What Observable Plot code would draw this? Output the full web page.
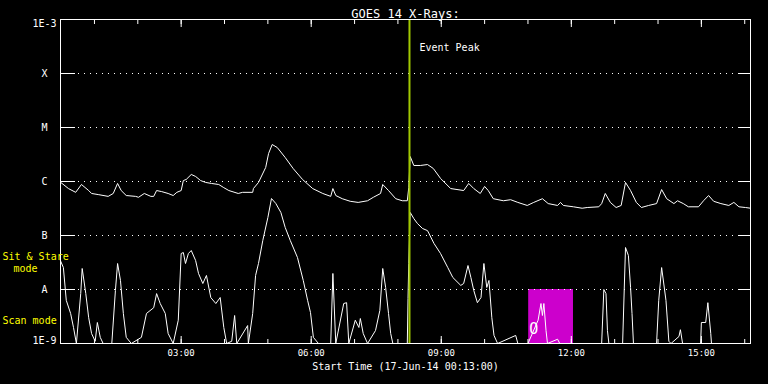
<!DOCTYPE html>
<html>
<head>
<meta charset="utf-8">
<script src="https://cdn.jsdelivr.net/npm/d3@7"></script>
<script src="https://cdn.jsdelivr.net/npm/@observablehq/plot@0.6"></script>
<style>
  html, body { margin: 0; padding: 0; background: #000; }
  #chart { width: 768px; height: 384px; }
</style>
</head>
<body>
<div id="chart"></div>
<script>
// ---- data (UTC, 17-Jun-2014) ----
const longTimes = ["00:13","00:24","00:34","00:42","00:52","00:56","01:06","01:19","01:26","01:32","01:37","01:44","01:57","02:01","02:09","02:18","02:22","02:26","02:33","02:42","02:49","02:54","03:00","03:03","03:07","03:14","03:20","03:27","03:34","03:42","03:52","03:59","04:06","04:19","04:25","04:39","04:40","04:47","04:57","05:01","05:06","05:13","05:24","05:35","05:48","06:02","06:16","06:27","06:30","06:34","06:43","06:54","07:05","07:18","07:26","07:36","07:39","07:47","07:57","08:06","08:13","08:15","08:17","08:22","08:31","08:41","08:49","08:59","09:13","09:31","09:38","09:45","09:54","10:00","10:05","10:12","10:26","10:36","10:46","10:59","11:08","11:20","11:28","11:41","11:45","11:49","12:03","12:15","12:22","12:38","12:42","12:47","12:54","13:02","13:09","13:15","13:22","13:30","13:37","13:47","13:58","14:05","14:12","14:22","14:27","14:35","14:42","14:56","15:03","15:10","15:17","15:27","15:38","15:45","15:52","16:01","16:08"];
const longFlux = [0.97e-6,0.74e-6,0.63e-6,0.88e-6,0.68e-6,0.60e-6,0.57e-6,0.53e-6,0.60e-6,0.92e-6,0.68e-6,0.55e-6,0.53e-6,0.51e-6,0.60e-6,0.53e-6,0.53e-6,0.68e-6,0.65e-6,0.60e-6,0.55e-6,0.63e-6,0.68e-6,1.04e-6,1.09e-6,1.35e-6,1.24e-6,1.04e-6,0.96e-6,0.92e-6,0.88e-6,0.77e-6,0.68e-6,0.60e-6,0.63e-6,0.63e-6,0.74e-6,0.96e-6,1.82e-6,3.30e-6,4.84e-6,4.26e-6,2.78e-6,1.74e-6,1.09e-6,0.74e-6,0.60e-6,0.53e-6,0.74e-6,0.55e-6,0.48e-6,0.43e-6,0.41e-6,0.44e-6,0.51e-6,0.60e-6,0.88e-6,0.68e-6,0.48e-6,0.44e-6,0.44e-6,0.77e-6,2.90e-6,1.98e-6,1.98e-6,2.06e-6,1.74e-6,1.14e-6,0.74e-6,0.68e-6,0.92e-6,0.74e-6,0.60e-6,0.81e-6,0.68e-6,0.48e-6,0.44e-6,0.46e-6,0.41e-6,0.36e-6,0.41e-6,0.48e-6,0.39e-6,0.36e-6,0.41e-6,0.36e-6,0.34e-6,0.32e-6,0.33e-6,0.34e-6,0.39e-6,0.60e-6,0.41e-6,0.33e-6,0.36e-6,0.96e-6,0.68e-6,0.41e-6,0.33e-6,0.36e-6,0.39e-6,0.71e-6,0.48e-6,0.39e-6,0.44e-6,0.39e-6,0.34e-6,0.34e-6,0.44e-6,0.55e-6,0.43e-6,0.39e-6,0.36e-6,0.41e-6,0.34e-6,0.33e-6,0.32e-6];

const shortTimes = ["00:13","00:17","00:21","00:27","00:31","00:35","00:41","00:43","00:48","00:52","00:56","01:01","01:04","01:08","01:12","01:24","01:29","01:32","01:36","01:40","01:44","01:51","02:05","02:12","02:22","02:26","02:31","02:38","02:42","02:49","02:56","03:00","03:03","03:06","03:10","03:14","03:20","03:24","03:30","03:35","03:41","03:48","03:54","03:59","04:03","04:10","04:14","04:17","04:32","04:33","04:39","04:43","04:47","04:53","05:00","05:05","05:11","05:18","05:24","05:31","05:41","05:49","05:55","05:59","06:03","06:10","06:27","06:30","06:34","06:45","06:49","06:52","07:01","07:06","07:08","07:12","07:18","07:29","07:35","07:39","07:43","07:47","07:50","07:53","08:13","08:14","08:15","08:17","08:22","08:27","08:34","08:41","08:50","08:59","09:09","09:16","09:27","09:31","09:37","09:41","09:45","09:50","09:55","09:59","10:03","10:06","10:10","10:13","10:18","10:43","10:46","11:00","11:14","11:18","11:20","11:22","11:25","11:27","11:41","11:44","12:42","12:45","12:48","12:50","12:52","13:11","13:15","13:19","13:22","13:24","13:26","13:58","14:01","14:05","14:11","14:15","14:18","14:29","14:31","14:34","14:59","15:00","15:06","15:09","15:13","15:14","16:08"];
const shortFlux = [3.4e-8,2.55e-8,0.63e-8,0.36e-8,0.198e-8,0.1e-8,0.84e-8,2.45e-8,0.84e-8,0.30e-8,0.153e-8,0.11e-8,0.245e-8,0.13e-8,0.1e-8,0.1e-8,0.96e-8,3.03e-8,1.47e-8,0.36e-8,0.13e-8,0.1e-8,0.13e-8,0.36e-8,0.46e-8,0.84e-8,0.55e-8,0.36e-8,0.153e-8,0.1e-8,0.27e-8,4.64e-8,4.84e-8,3.03e-8,4.64e-8,5.27e-8,3.44e-8,1.98e-8,1.29e-8,1.82e-8,0.71e-8,0.55e-8,0.71e-8,0.198e-8,0.1e-8,0.11e-8,0.33e-8,0.1e-8,0.215e-8,0.1e-8,0.36e-8,1.82e-8,3.03e-8,8.1e-8,21.5e-8,48.4e-8,39.2e-8,26.7e-8,14.1e-8,8.1e-8,3.91e-8,1.47e-8,0.63e-8,0.375e-8,0.13e-8,0.1e-8,0.1e-8,1.98e-8,0.1e-8,0.55e-8,0.57e-8,0.1e-8,0.27e-8,0.198e-8,0.29e-8,0.153e-8,0.1e-8,0.174e-8,0.41e-8,2.45e-8,1.09e-8,0.36e-8,0.153e-8,0.1e-8,0.1e-8,0.68e-8,3.03e-8,26.7e-8,20.6e-8,16.7e-8,13.5e-8,12.3e-8,7.1e-8,4.64e-8,2.55e-8,1.67e-8,1.19e-8,1.29e-8,2.78e-8,1.67e-8,0.96e-8,0.57e-8,0.71e-8,3.03e-8,1.09e-8,1.47e-8,0.30e-8,0.141e-8,0.1e-8,0.141e-8,0.1e-8,0.1e-8,0.27e-8,0.55e-8,0.33e-8,0.55e-8,0.174e-8,0.1e-8,0.12e-8,0.1e-8,0.1e-8,1.0e-8,0.84e-8,0.174e-8,0.1e-8,0.1e-8,5.99e-8,4.26e-8,1.09e-8,0.36e-8,0.1e-8,0.1e-8,0.63e-8,2.55e-8,0.63e-8,0.11e-8,0.1e-8,0.135e-8,0.18e-8,0.1e-8,0.1e-8,0.245e-8,0.245e-8,0.57e-8,0.153e-8,0.1e-8,0.1e-8];

const classLevels = [1e-3, 1e-4, 1e-5, 1e-6, 1e-7, 1e-8, 1e-9];
const classLabels = ["1E-3", "X", "M", "C", "B", "A", "1E-9"];
const hourTicks = ["01:00","02:00","03:00","04:00","05:00","06:00","07:00","08:00","09:00","10:00","11:00","12:00","13:00","14:00","15:00","16:00"];
const majorTickLabels = ["03:00","06:00","09:00","12:00","15:00"];
const startTime = "00:13";
const endTime = "16:08";
const eventPeak = "08:16";
const scanWindow = ["11:01", "12:03"];
const scanFlux = [1e-9, 1e-8];
const scanMarkTime = "11:08";

// ---- build ----
const T = s => new Date(`2014-06-17T${s}:00Z`);
const longData = longTimes.map((t, i) => ({t: T(t), f: longFlux[i]}));
const shortData = shortTimes.map((t, i) => ({t: T(t), f: shortFlux[i]}));
const levels = classLevels.map((v, i) => ({v, label: classLabels[i]}));
const inner = levels.filter(d => d.v < 1e-3 && d.v > 1e-9);
const hours = hourTicks.map(T);
const majors = majorTickLabels.map(T);
const fmt = d3.utcFormat("%H:%M");

const chart = Plot.plot({
  width: 768,
  height: 384,
  marginTop: 19,
  marginBottom: 41,
  marginLeft: 60,
  marginRight: 18,
  style: {background: "#000", color: "#fff", fontFamily: "DejaVu Sans Mono, monospace", fontSize: "10px"},
  x: {type: "utc", domain: [T(startTime), T(endTime)], axis: null},
  y: {type: "log", domain: [1e-9, 1e-3], axis: null, clamp: true},
  marks: [
    Plot.rect([{a: T(scanWindow[0]), b: T(scanWindow[1])}], {x1: "a", x2: "b", y1: scanFlux[0], y2: scanFlux[1], fill: "#cc00cc"}),
    Plot.text(["O"], {x: T(scanMarkTime), frameAnchor: "bottom", dy: -10, fill: "#fff", fontSize: 15}),
    Plot.gridY(inner.map(d => d.v), {stroke: "#fff", strokeOpacity: 1, strokeDasharray: "1 5"}),
    Plot.axisY(inner.map(d => d.v), {anchor: "left", tickSize: 15, dx: 15, tickFormat: () => "", label: null, stroke: "#fff"}),
    Plot.axisY(inner.map(d => d.v), {anchor: "right", tickSize: 13, dx: -13, tickFormat: () => "", label: null, stroke: "#fff"}),
    Plot.axisX(hours, {anchor: "top", tickSize: 4, dy: 4, tickFormat: () => "", label: null, stroke: "#fff"}),
    Plot.axisX(majors, {anchor: "top", tickSize: 7, dy: 7, tickFormat: () => "", label: null, stroke: "#fff"}),
    Plot.axisX(hours, {anchor: "bottom", tickSize: 4, dy: -4, tickFormat: () => "", label: null, stroke: "#fff"}),
    Plot.axisX(majors, {anchor: "bottom", tickSize: 7, dy: -7, tickFormat: () => "", label: null, stroke: "#fff"}),
    Plot.line(longData, {x: "t", y: "f", stroke: "#fff", strokeWidth: 1}),
    Plot.line(shortData, {x: "t", y: "f", stroke: "#fff", strokeWidth: 1}),
    Plot.ruleX([T(eventPeak)], {stroke: "#a0c800", strokeWidth: 2}),
    Plot.frame({stroke: "#fff"}),
    Plot.text(["Event Peak"], {x: T(eventPeak), frameAnchor: "top", dx: 10, dy: 24, textAnchor: "start", fill: "#fff", fontSize: 10}),
    Plot.text(levels, {y: "v", text: "label", frameAnchor: "left", dx: -16, textAnchor: "middle", fill: "#fff", fontSize: 10,
      dy: 0, filter: d => d.v < 1e-3 && d.v > 1e-9}),
    Plot.text(levels.filter(d => d.v === 1e-3), {y: "v", text: "label", frameAnchor: "left", dx: -16, dy: 4, textAnchor: "middle", fill: "#fff", fontSize: 10}),
    Plot.text(levels.filter(d => d.v === 1e-9), {y: "v", text: "label", frameAnchor: "left", dx: -16, dy: -3, textAnchor: "middle", fill: "#fff", fontSize: 10}),
    Plot.text(majors, {x: d => d, text: d => fmt(d), frameAnchor: "bottom", dy: 12, fill: "#fff", fontSize: 9}),
    Plot.text([`Start Time (17-Jun-14 ${startTime}:00)`], {frameAnchor: "bottom", dy: 26, fill: "#fff", fontSize: 10}),
    Plot.text(["GOES 14 X-Rays:"], {frameAnchor: "top", dy: -10, fill: "#fff", fontSize: 12}),
    Plot.text(["Sit & Stare"], {frameAnchor: "bottom-left", dx: -58, dy: -84, textAnchor: "start", fill: "#ffff00", fontSize: 10}),
    Plot.text(["mode"], {frameAnchor: "bottom-left", dx: -47, dy: -72, textAnchor: "start", fill: "#ffff00", fontSize: 10}),
    Plot.text(["Scan mode"], {frameAnchor: "bottom-left", dx: -58, dy: -20, textAnchor: "start", fill: "#ffff00", fontSize: 10})
  ]
});
document.getElementById("chart").append(chart);
</script>
</body>
</html>
